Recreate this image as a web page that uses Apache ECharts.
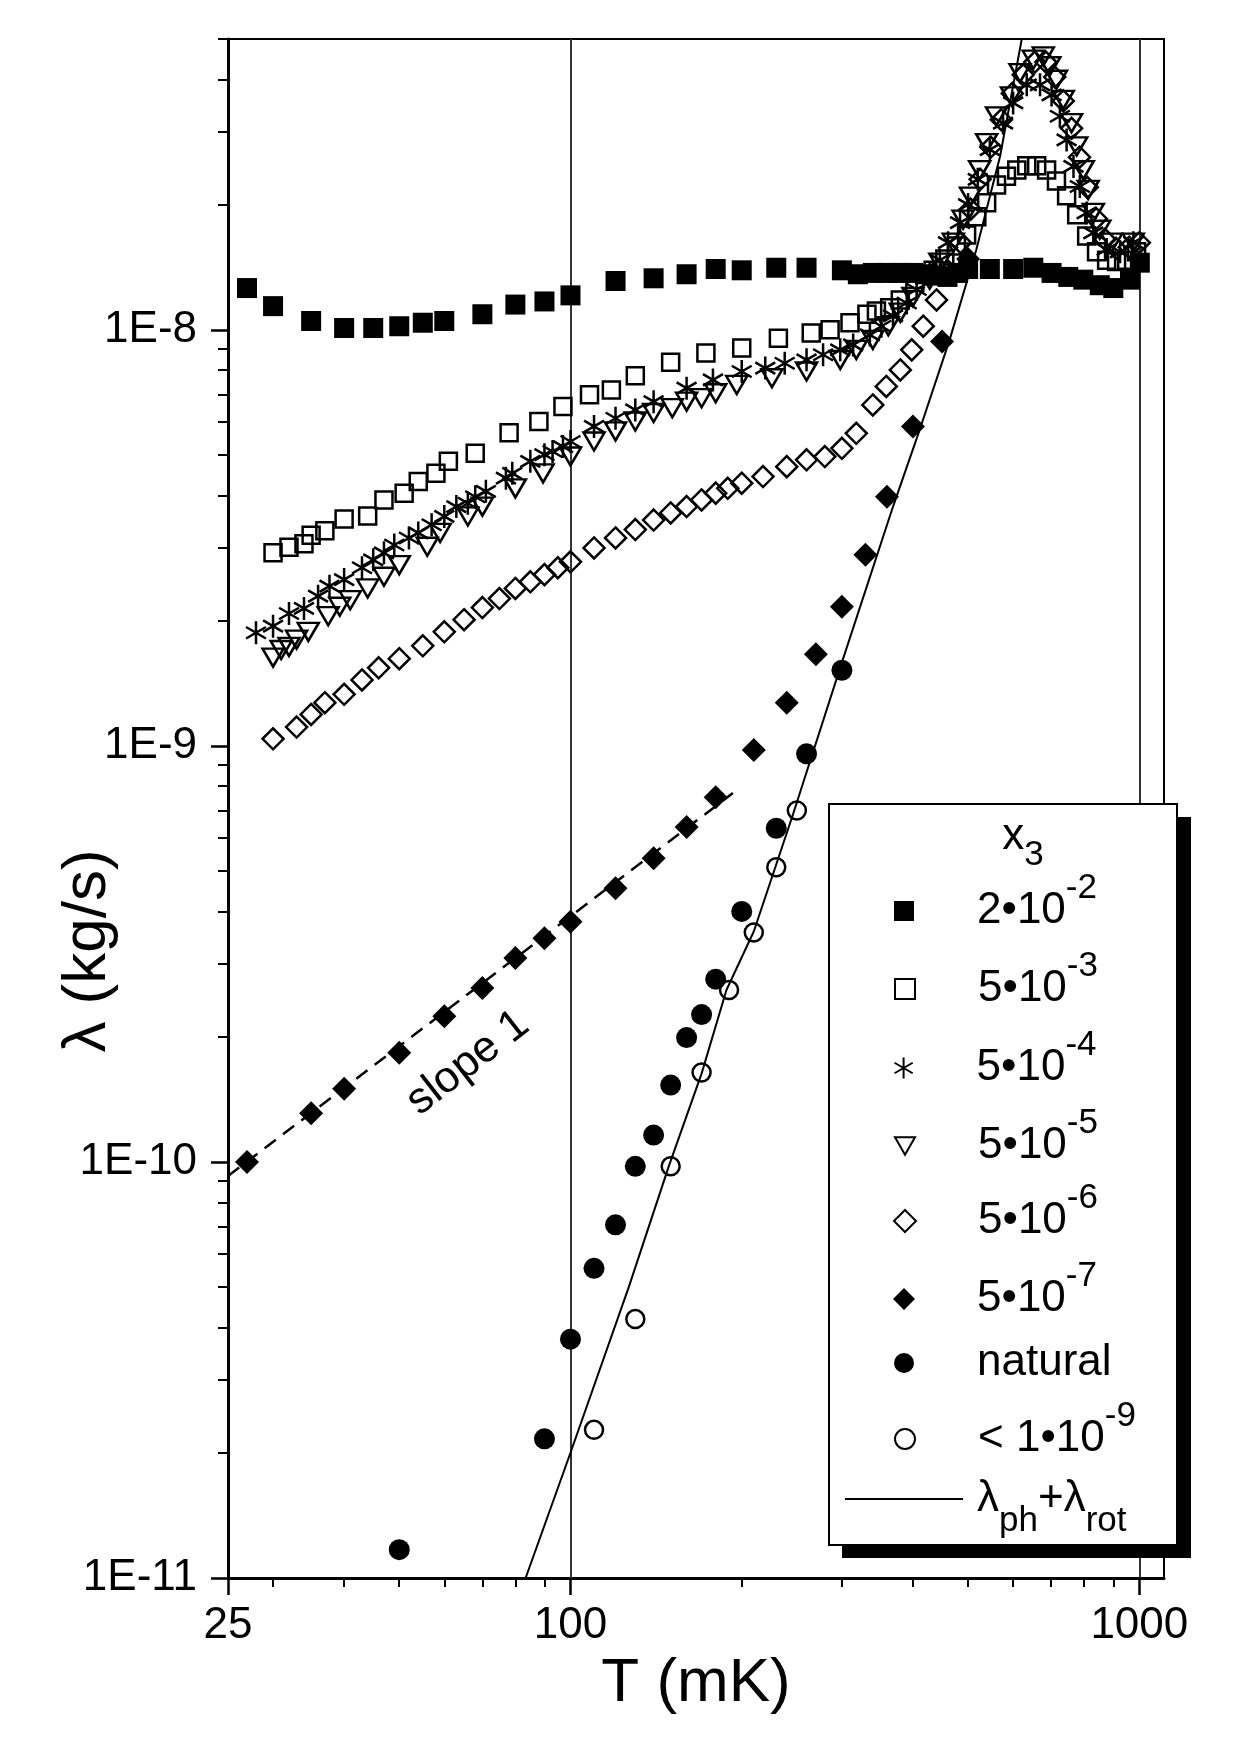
<!DOCTYPE html>
<html>
<head>
<meta charset="utf-8">
<script src="https://cdn.jsdelivr.net/npm/echarts@6/dist/echarts.min.js"></script>
<style>
html, body { margin: 0; padding: 0; background: #fff; }
#chart { width: 1240px; height: 1755px; }
</style>
</head>
<body>
<div id="chart"></div>
<script>
// 数据：[T (mK), λ (kg/s)]
var sq2e2 = [[27,1.26e-8],[30,1.14e-8],[35,1.05e-8],[40,1.01e-8],[45,1.01e-8],[50,1.02e-8],[55,1.04e-8],[60,1.05e-8],[70,1.09e-8],[80,1.15e-8],[90,1.17e-8],[100,1.21e-8],[120,1.31e-8],[140,1.33e-8],[160,1.36e-8],[180,1.40e-8],[200,1.39e-8],[230,1.41e-8],[260,1.41e-8],[300,1.39e-8],[320,1.36e-8],[340,1.37e-8],[360,1.37e-8],[380,1.37e-8],[400,1.37e-8],[420,1.36e-8],[440,1.35e-8],[460,1.34e-8],[480,1.37e-8],[500,1.40e-8],[546,1.40e-8],[600,1.40e-8],[651,1.41e-8],[701,1.37e-8],[750,1.34e-8],[797,1.32e-8],[852,1.28e-8],[900,1.26e-8],[963,1.32e-8],[1002,1.45e-8]];
var sq5e3 = [[30,2.91e-9],[32,3.00e-9],[34,3.06e-9],[35,3.21e-9],[37,3.29e-9],[40,3.51e-9],[44,3.57e-9],[47,3.90e-9],[51,4.05e-9],[54,4.32e-9],[58,4.52e-9],[61,4.83e-9],[68,5.05e-9],[78,5.66e-9],[88,6.02e-9],[97,6.54e-9],[108,6.98e-9],[118,7.17e-9],[130,7.76e-9],[150,8.36e-9],[173,8.79e-9],[200,9.04e-9],[232,9.55e-9],[265,9.82e-9],[286,1.0e-8],[310,1.04e-8],[332,1.09e-8],[345,1.11e-8],[364,1.13e-8],[380,1.18e-8],[403,1.30e-8],[434,1.39e-8],[455,1.48e-8],[477,1.59e-8],[497,1.69e-8],[518,1.87e-8],[539,2.02e-8],[561,2.23e-8],[584,2.34e-8],[609,2.42e-8],[634,2.48e-8],[660,2.48e-8],[687,2.42e-8],[715,2.28e-8],[745,2.10e-8],[776,1.89e-8],[808,1.68e-8],[841,1.54e-8],[876,1.47e-8],[912,1.46e-8],[950,1.47e-8],[989,1.54e-8]];
var ast5e4 = [[28,1.87e-9],[30,1.94e-9],[32,2.08e-9],[34,2.14e-9],[36,2.29e-9],[37.7,2.42e-9],[40,2.51e-9],[43,2.68e-9],[45,2.80e-9],[47,2.91e-9],[49,3.04e-9],[52,3.16e-9],[54,3.25e-9],[57,3.40e-9],[60,3.56e-9],[63,3.76e-9],[66,3.83e-9],[68,3.97e-9],[71,4.09e-9],[77,4.40e-9],[79,4.52e-9],[85,4.83e-9],[90,5.01e-9],[93,5.10e-9],[97,5.24e-9],[100,5.39e-9],[110,5.86e-9],[120,6.13e-9],[130,6.42e-9],[140,6.72e-9],[160,7.24e-9],[178,7.58e-9],[200,7.94e-9],[220,8.09e-9],[238,8.31e-9],[260,8.47e-9],[278,8.71e-9],[298,8.95e-9],[314,9.20e-9],[336,9.72e-9],[352,1.02e-8],[369,1.08e-8],[390,1.16e-8],[406,1.25e-8],[428,1.36e-8],[446,1.47e-8],[461,1.62e-8],[484,1.81e-8],[500,2.0e-8],[520,2.3e-8],[546,2.71e-8],[576,3.14e-8],[600,3.51e-8],[634,3.88e-8],[669,3.88e-8],[701,3.67e-8],[725,3.26e-8],[745,2.86e-8],[766,2.47e-8],[786,2.21e-8],[808,1.91e-8],[830,1.71e-8],[876,1.56e-8],[925,1.54e-8],[976,1.62e-8]];
var tri5e5 = [[30,1.63e-9],[31,1.70e-9],[32,1.73e-9],[33,1.80e-9],[34.6,1.88e-9],[37.5,2.05e-9],[39.3,2.16e-9],[41,2.24e-9],[44,2.39e-9],[47,2.55e-9],[50,2.72e-9],[56,3.01e-9],[59,3.25e-9],[66,3.56e-9],[70,3.76e-9],[80,4.16e-9],[89.5,4.52e-9],[100,4.96e-9],[110,5.39e-9],[120,5.70e-9],[130,6.02e-9],[140,6.31e-9],[151,6.48e-9],[160,6.72e-9],[170,6.85e-9],[180,7.04e-9],[196,7.37e-9],[226,7.65e-9],[260,7.94e-9],[298,8.47e-9],[318,8.95e-9],[340,9.46e-9],[362,1.02e-8],[380,1.10e-8],[400,1.20e-8],[428,1.32e-8],[446,1.45e-8],[471,1.62e-8],[490,1.84e-8],[505,2.09e-8],[524,2.42e-8],[539,2.81e-8],[561,3.26e-8],[596,3.64e-8],[617,4.14e-8],[651,4.46e-8],[678,4.54e-8],[696,4.30e-8],[715,3.99e-8],[735,3.57e-8],[760,3.14e-8],[776,2.76e-8],[797,2.42e-8],[813,2.17e-8],[830,1.91e-8],[852,1.74e-8],[894,1.62e-8],[976,1.62e-8]];
var dia5e6 = [[30,1.04e-9],[33,1.11e-9],[35,1.19e-9],[37,1.27e-9],[40,1.33e-9],[43,1.44e-9],[46,1.54e-9],[50,1.62e-9],[55,1.74e-9],[60,1.88e-9],[65,2.01e-9],[70,2.15e-9],[75,2.26e-9],[80,2.39e-9],[85,2.48e-9],[90,2.58e-9],[95,2.68e-9],[100,2.77e-9],[110,2.99e-9],[120,3.16e-9],[130,3.31e-9],[140,3.49e-9],[150,3.63e-9],[160,3.76e-9],[170,3.90e-9],[180,4.05e-9],[189,4.16e-9],[200,4.28e-9],[218,4.44e-9],[240,4.69e-9],[260,4.87e-9],[280,4.96e-9],[300,5.19e-9],[318,5.64e-9],[340,6.60e-9],[359,7.31e-9],[380,8.01e-9],[398,8.95e-9],[417,1.02e-8],[440,1.18e-8],[462,1.38e-8],[485,1.62e-8],[505,1.95e-8],[525,2.30e-8],[548,2.75e-8],[572,3.2e-8],[598,3.7e-8],[625,4.1e-8],[655,4.4e-8],[685,4.4e-8],[710,4.05e-8],[735,3.55e-8],[760,3.05e-8],[785,2.6e-8],[810,2.2e-8],[840,1.85e-8],[870,1.65e-8],[910,1.57e-8],[960,1.58e-8],[1000,1.62e-8]];
var fdia5e7 = [[27,1.0e-10],[35,1.31e-10],[40,1.50e-10],[50,1.83e-10],[60,2.24e-10],[70,2.62e-10],[80,3.09e-10],[90,3.45e-10],[100,3.78e-10],[120,4.55e-10],[140,5.37e-10],[160,6.38e-10],[180,7.53e-10],[210,9.78e-10],[240,1.27e-9],[270,1.66e-9],[300,2.16e-9],[330,2.88e-9],[360,3.97e-9],[400,5.86e-9],[450,9.38e-9],[500,1.48e-8]];
var slopeOne = [[25,9.25e-11],[193,7.7e-10]];
var natural = [[50,1.17e-11],[90,2.16e-11],[100,3.75e-11],[110,5.55e-11],[120,7.06e-11],[130,9.76e-11],[140,1.16e-10],[150,1.53e-10],[160,1.99e-10],[170,2.26e-10],[180,2.75e-10],[200,4.0e-10],[230,6.34e-10],[260,9.57e-10],[300,1.52e-9]];
var lt1e9 = [[110,2.27e-11],[130,4.19e-11],[150,9.76e-11],[170,1.64e-10],[190,2.59e-10],[210,3.56e-10],[230,5.11e-10],[250,6.99e-10]];
var phRot = [[83.4,1.0e-11],[100,2.0e-11],[126.6,5.0e-11],[149,9.8e-11],[170,1.63e-10],[188,2.59e-10],[210,3.58e-10],[246,6.83e-10],[301,1.61e-9],[369,3.76e-9],[411,5.75e-9],[464,9.46e-9],[517,1.56e-8],[569,2.61e-8],[621,4.98e-8]];

// 刻度
var xTickLabels = [25, 100, 1000];
var xMinorTicks = [30, 40, 50, 60, 70, 80, 90, 200, 300, 400, 500, 600, 700, 800, 900];
var yTickLabels = [1e-11, 1e-10, 1e-9, 1e-8];
var yMinorTicks = [2e-11, 3e-11, 4e-11, 5e-11, 6e-11, 7e-11, 8e-11, 9e-11,
  2e-10, 3e-10, 4e-10, 5e-10, 6e-10, 7e-10, 8e-10, 9e-10,
  2e-9, 3e-9, 4e-9, 5e-9, 6e-9, 7e-9, 8e-9, 9e-9,
  2e-8, 3e-8, 4e-8, 5e-8];
var xGridLines = [100, 1000];
var yGridLines = [1e-8, 1e-9, 1e-10];

var seriesNames = ['2e-2', '5e-3', '5e-4', '5e-5', '5e-6', '5e-7', 'natural', 'lt1e-9', 'phrot'];
var legendLabels = ['{m|2•10}{s|-2}', '{m|5•10}{s|-3}', '{m|5•10}{s|-4}', '{m|5•10}{s|-5}',
  '{m|5•10}{s|-6}', '{m|5•10}{s|-7}', '{m|natural}', '{m|< 1•10}{s|-9}', '{m|λ}{b|ph}{m|+λ}{b|rot}'];

var FONT = '"Liberation Sans", Arial, Helvetica, sans-serif';
var ASTER = 'path://M10,0L10,20M1.34,5L18.66,15M1.34,15L18.66,5';
var TRI = 'path://M0,0L20,0L10,17.32Z';
var OPEN = { color: 'rgba(0,0,0,0)', borderColor: '#000', borderWidth: 2.5, opacity: 1 };
var OPEN_LG = { color: 'rgba(0,0,0,0)', borderColor: '#000', borderWidth: 2, opacity: 1 };
var FILLED = { color: '#000', borderWidth: 0, opacity: 1 };

var chart = echarts.init(document.getElementById('chart'));

// 每个图例单独放一个 legend，方便对齐；top 是按实际渲染偏移调过的
function legendRow(idx, top, size, icon, style, isLine) {
  var iconW = isLine ? 118 : size;
  var left = isLine ? 845 : 904 - size / 2;
  var gap = 977 - (left + iconW + 5);
  return {
    data: [seriesNames[idx]],
    orient: 'horizontal',
    left: left,
    top: top,
    padding: 0,
    itemWidth: iconW,
    itemHeight: isLine ? 2 : size,
    selectedMode: false,
    icon: icon,
    itemStyle: style,
    formatter: function () { return '{g| }' + legendLabels[idx]; },
    textStyle: {
      color: '#000',
      fontFamily: FONT,
      rich: {
        g: { width: gap, fontSize: 10 },
        m: { fontSize: 44, lineHeight: 80, fontFamily: FONT, color: '#000' },
        s: { fontSize: 35, lineHeight: 35, verticalAlign: 'top', fontFamily: FONT, color: '#000' },
        b: { fontSize: 35, lineHeight: 35, verticalAlign: 'bottom', fontFamily: FONT, color: '#000' }
      }
    }
  };
}

var option = {
  animation: false,
  backgroundColor: '#fff',
  grid: {
    left: 228, right: 76, top: 39, bottom: 177,
    show: true, borderColor: '#000', borderWidth: 2,
    containLabel: false, outerBoundsMode: 'none'
  },
  xAxis: [{
    type: 'log', logBase: 10, min: 24.999, max: 1105, position: 'bottom',
    axisLine: { show: true, onZero: false, lineStyle: { color: '#000', width: 3 } },
    axisTick: { show: true, inside: false, length: 9, customValues: xMinorTicks, lineStyle: { color: '#000', width: 2 } },
    axisLabel: {
      show: true, customValues: xTickLabels, margin: 26, fontSize: 44, color: '#000', fontFamily: FONT,
      formatter: function (v) { return String(Math.round(v)); }
    },
    splitLine: { show: false },
    name: 'T (mK)', nameLocation: 'middle', nameGap: 66,
    nameTextStyle: { fontSize: 62, color: '#000', fontFamily: FONT }
  }, {
    type: 'log', logBase: 10, min: 24.999, max: 1105, position: 'bottom',
    axisLine: { show: false },
    axisTick: { show: true, inside: false, length: 17, customValues: xTickLabels, lineStyle: { color: '#000', width: 2.5 } },
    axisLabel: { show: false },
    splitLine: { show: false }
  }],
  yAxis: [{
    type: 'log', logBase: 10, min: 0.99999e-11, max: 5e-8, position: 'left',
    axisLine: { show: true, onZero: false, lineStyle: { color: '#000', width: 3 } },
    axisTick: { show: true, inside: false, length: 10, customValues: yMinorTicks, lineStyle: { color: '#000', width: 2 } },
    axisLabel: {
      show: true, customValues: yTickLabels, margin: 31, fontSize: 44, color: '#000', fontFamily: FONT,
      formatter: function (v) { return '1E' + Math.round(Math.log10(v)); }
    },
    splitLine: { show: false }
  }, {
    type: 'log', logBase: 10, min: 0.99999e-11, max: 5e-8, position: 'left',
    axisLine: { show: false },
    axisTick: { show: true, inside: false, length: 17, customValues: yTickLabels, lineStyle: { color: '#000', width: 2.5 } },
    axisLabel: { show: false },
    splitLine: { show: false }
  }],
  legend: [
    legendRow(0, 871, 20, 'rect', FILLED),
    legendRow(1, 949, 20, 'rect', OPEN_LG),
    legendRow(2, 1028, 21, ASTER, OPEN_LG),
    legendRow(3, 1106, 20, TRI, OPEN_LG),
    legendRow(4, 1181, 22, 'diamond', OPEN_LG),
    legendRow(5, 1259, 22, 'diamond', FILLED),
    legendRow(6, 1341, 20, 'circle', FILLED),
    legendRow(7, 1399, 20, 'circle', OPEN_LG),
    legendRow(8, 1477, 2, 'rect', FILLED, true)
  ],
  graphic: [
    { type: 'rect', z: 3, silent: true, shape: { x: 1177, y: 817, width: 14, height: 741 }, style: { fill: '#000' } },
    { type: 'rect', z: 3, silent: true, shape: { x: 842, y: 1545, width: 349, height: 13 }, style: { fill: '#000' } },
    { type: 'rect', z: 3, silent: true, shape: { x: 829, y: 804, width: 348, height: 741 }, style: { fill: '#fff', stroke: '#000', lineWidth: 2 } },
    {
      type: 'text', z: 5, silent: true, x: 1023, y: 837,
      style: {
        text: '{a|x}{b|3}', align: 'center', verticalAlign: 'middle',
        rich: {
          a: { fontSize: 44, lineHeight: 72, fontFamily: FONT, fill: '#000' },
          b: { fontSize: 35, lineHeight: 35, verticalAlign: 'bottom', fontFamily: FONT, fill: '#000' }
        }
      }
    },
    {
      type: 'text', z: 5, silent: true, x: 468, y: 1063, rotation: 38 * Math.PI / 180,
      style: { text: 'slope 1', fontSize: 44, fontFamily: FONT, fill: '#000', align: 'center', verticalAlign: 'middle' }
    },
    {
      type: 'text', z: 5, silent: true, x: 88, y: 951, rotation: Math.PI / 2,
      style: { text: 'λ (kg/s)', fontSize: 62, fontFamily: FONT, fill: '#000', align: 'center', verticalAlign: 'middle' }
    }
  ],
  series: [
    { name: '2e-2', type: 'scatter', data: sq2e2, symbol: 'rect', symbolSize: 20, itemStyle: FILLED, silent: true },
    { name: '5e-3', type: 'scatter', data: sq5e3, symbol: 'rect', symbolSize: 17, itemStyle: OPEN, silent: true },
    { name: '5e-4', type: 'scatter', data: ast5e4, symbol: ASTER, symbolSize: 23, symbolKeepAspect: true, itemStyle: OPEN, silent: true },
    { name: '5e-5', type: 'scatter', data: tri5e5, symbol: TRI, symbolSize: [21, 18], itemStyle: OPEN, silent: true },
    { name: '5e-6', type: 'scatter', data: dia5e6, symbol: 'diamond', symbolSize: 21, itemStyle: OPEN, silent: true },
    { name: '5e-7', type: 'scatter', data: fdia5e7, symbol: 'diamond', symbolSize: 24, itemStyle: FILLED, silent: true },
    {
      name: 'slope', type: 'line', data: slopeOne, symbol: 'none', silent: true,
      itemStyle: { color: '#000' },
      lineStyle: { color: '#000', width: 2.5, type: [14, 9] }
    },
    { name: 'natural', type: 'scatter', data: natural, symbol: 'circle', symbolSize: 21, itemStyle: FILLED, silent: true },
    { name: 'lt1e-9', type: 'scatter', data: lt1e9, symbol: 'circle', symbolSize: 18, itemStyle: OPEN, silent: true },
    {
      name: 'phrot', type: 'line', data: phRot, symbol: 'none', silent: true,
      itemStyle: { color: '#000' },
      lineStyle: { color: '#000', width: 2 },
      markLine: {
        silent: true, symbol: 'none', z: 1, label: { show: false },
        lineStyle: { color: '#333', width: 2, type: 'solid' },
        data: xGridLines.map(function (v) { return { xAxis: v }; })
          .concat(yGridLines.map(function (v) { return { yAxis: v }; }))
      }
    }
  ]
};

chart.setOption(option);
</script>
</body>
</html>
